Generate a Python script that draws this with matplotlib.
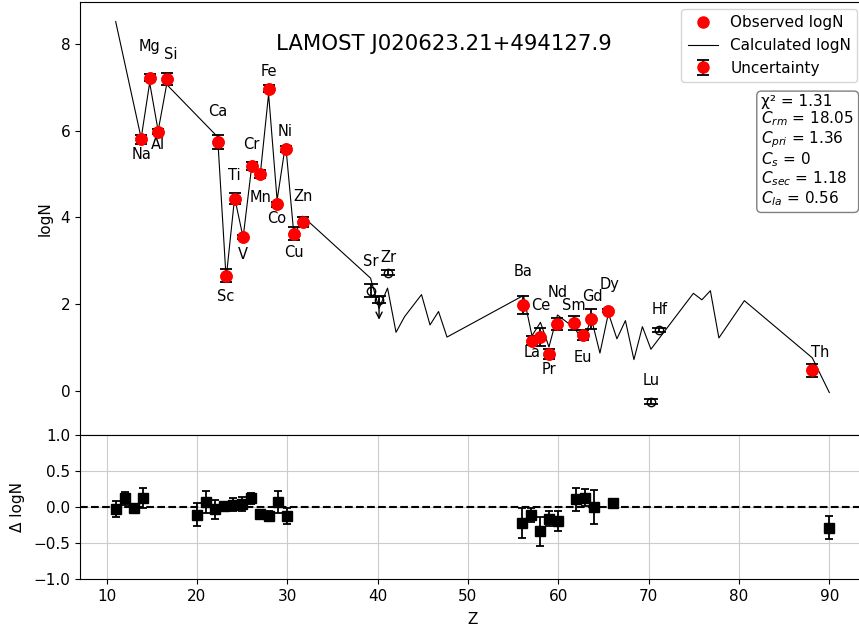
import numpy as np
import matplotlib
matplotlib.use("Agg")
import matplotlib.pyplot as plt

plt.rcParams["font.size"] = 11

star_name = "LAMOST J020623.21+494127.9"

# Elements used in the fit: atomic number, observed abundance, uncertainty
fit_elements = ["Na", "Mg", "Al", "Si", "Ca", "Sc", "Ti", "V", "Cr", "Mn", "Fe", "Co",
                "Ni", "Cu", "Zn", "Ba", "La", "Ce", "Pr", "Nd", "Sm", "Eu", "Gd", "Dy", "Th"]
fit_Z = [11, 12, 13, 14, 20, 21, 22, 23, 24, 25, 26, 27,
         28, 29, 30, 56, 57, 58, 59, 60, 62, 63, 64, 66, 90]
fit_logN = [5.80, 7.23, 5.98, 7.19, 5.75, 2.66, 4.43, 3.55, 5.19, 5.00, 6.97, 4.30,
            5.58, 3.62, 3.90, 1.98, 1.16, 1.24, 0.85, 1.55, 1.56, 1.29, 1.66, 1.85, 0.47]
fit_err = [0.11, 0.09, 0.06, 0.14, 0.16, 0.15, 0.13, 0.05, 0.09, 0.10, 0.08, 0.06,
           0.06, 0.15, 0.11, 0.21, 0.10, 0.20, 0.11, 0.14, 0.16, 0.12, 0.23, 0.03, 0.16]

# Elements excluded from the fit (open symbols); Y is an upper limit
free_elements = ["Sr", "Y", "Zr", "Lu", "Hf"]
free_Z = [38, 39, 40, 71, 72]
free_logN = [2.31, 2.10, 2.73, -0.25, 1.41]
free_err = [0.15, 0.08, 0.06, 0.05, 0.05]
free_upper = [False, True, False, False, False]
upper_limit_len = 0.46

# Model abundance pattern
model_Z = [8, 11, 12, 13, 14, 20, 21, 22, 23, 24, 25, 26, 27, 28, 29, 30,
           38, 39, 40, 41, 42, 44, 45, 46, 47, 56, 57, 58, 59, 60, 62, 63, 64,
           65, 66, 67, 68, 69, 70, 71, 76, 77, 78, 79, 82, 90, 92]
model_logN = [8.52, 5.83, 7.11, 6.00, 7.07, 5.86, 2.59, 4.46, 3.54, 5.16, 4.96, 6.85,
              4.40, 5.70, 3.55, 4.03,
              2.60, 1.90, 2.37, 1.35, 1.71, 2.22, 1.52, 1.83, 1.24, 2.20, 1.27, 1.58,
              1.01, 1.75, 1.45, 1.16, 1.66,
              0.87, 1.79, 1.20, 1.62, 0.72, 1.48, 0.96, 2.25, 2.10, 2.31, 1.22, 2.08,
              0.76, -0.04]

fit_stats = ["χ² = 1.31", "$C_{rm}$ = 18.05", "$C_{pri}$ = 1.36", "$C_s$ = 0",
             "$C_{sec}$ = 1.18", "$C_{la}$ = 0.56"]

# label offsets (points) for element names
label_offsets = {
    "Na": (0, -10.8), "Mg": (0, 22.3), "Al": (0, -9.4), "Si": (2.9, 18),
    "Ca": (0, 22), "Sc": (0, -15), "Ti": (0, 16.6), "V": (0, -12.7),
    "Cr": (0, 15.3), "Mn": (0, -16.8), "Fe": (0, 12.2), "Co": (0, -10),
    "Ni": (0, 12.5), "Cu": (0, -13.5), "Zn": (0, 18.2), "Sr": (0, 21),
    "Zr": (0.7, 10.6), "Ba": (0, 23.8), "Ce": (0, 22.5), "Nd": (0, 22.3),
    "Sm": (-0.5, 12.5), "Gd": (0.8, 15.8), "Dy": (0.7, 19), "La": (0, -8.9),
    "Pr": (0, -11.5), "Eu": (0, -16.6), "Hf": (0, 14.2), "Lu": (0, 15.4),
    "Th": (5.8, 12.7),
}

fit_Z_a = np.array(fit_Z, dtype=float)
fit_logN_a = np.array(fit_logN)
residual = fit_logN_a - np.interp(fit_Z_a, model_Z, model_logN)

fig = plt.figure(figsize=(8.59, 6.28), dpi=100)
W, H = 859.0, 628.0
left, right = 80 / W, 865 / W
ax = fig.add_axes([left, 1 - 435 / H, right - left, (435 - 1.7) / H])
axr = fig.add_axes([left, 1 - 579 / H, right - left, 144 / H])

# --- upper panel ---
ax.plot(model_Z, model_logN, color="black", lw=0.8, label="Calculated logN", zorder=2)
ax.plot(fit_Z, fit_logN, "o", color="red", ms=8, label="Observed logN", zorder=3)
ax.errorbar(fit_Z, fit_logN, yerr=fit_err, fmt="o", color="red", ms=8,
            ecolor="black", elinewidth=1.3, capsize=4, capthick=1.3,
            label="Uncertainty", zorder=3)

for z, v, e, up in zip(free_Z, free_logN, free_err, free_upper):
    ax.errorbar([z], [v], yerr=[e], fmt="o", mfc="none", mec="black", ms=6,
                ecolor="black", elinewidth=1.3, capsize=5, capthick=1.3, zorder=3)
    if up:
        ax.annotate("", xy=(z, v - upper_limit_len), xytext=(z, v),
                    arrowprops=dict(arrowstyle="->", color="black", lw=1.0,
                                    shrinkA=0, shrinkB=0), zorder=3)

lab_Z = dict(zip(fit_elements + free_elements, fit_Z + free_Z))
lab_v = dict(zip(fit_elements + free_elements, fit_logN + free_logN))
for name, (dx, dy) in label_offsets.items():
    ax.annotate(name, (lab_Z[name], lab_v[name]), xytext=(dx, dy),
                textcoords="offset points", ha="center", va="center", fontsize=10.5)

ax.set_xlim(3.8, 96.2)
ax.set_ylim(-1.02, 8.98)
ax.tick_params(axis="x", bottom=False, labelbottom=False)
ax.set_ylabel("logN")
ax.yaxis.set_label_coords(-0.0344, 0.5)
ax.text(0.4637, 0.902, star_name, transform=ax.transAxes, ha="center", va="center",
        fontsize=15.3)

h, l = ax.get_legend_handles_labels()
order = [l.index("Observed logN"), l.index("Calculated logN"), l.index("Uncertainty")]
ax.legend([h[i] for i in order], [l[i] for i in order], loc="upper right")

ax.text(0.986, 0.787, "\n".join(fit_stats), transform=ax.transAxes, ha="right", va="top",
        multialignment="left", fontsize=11, linespacing=1.05,
        bbox=dict(boxstyle="round,pad=0.3", facecolor="white", edgecolor="gray"))

# --- residual panel ---
axr.axhline(0, color="black", ls="--", lw=1.5, zorder=2)
axr.errorbar(fit_Z, residual, yerr=fit_err, fmt="s", color="black", ms=7,
             ecolor="black", elinewidth=1.3, capsize=3, capthick=1.3, zorder=3)
axr.set_xlim(7.05, 93.95)
axr.set_ylim(-1.0, 1.0)
axr.set_yticks([-1.0, -0.5, 0.0, 0.5, 1.0])
axr.grid(True, color="#cccccc", lw=0.8)
axr.set_axisbelow(True)
axr.set_xlabel("Z", labelpad=6)
axr.set_ylabel("Δ logN")
axr.yaxis.set_label_coords(-0.070, 0.5)

fig.savefig("out.png", dpi=100)
